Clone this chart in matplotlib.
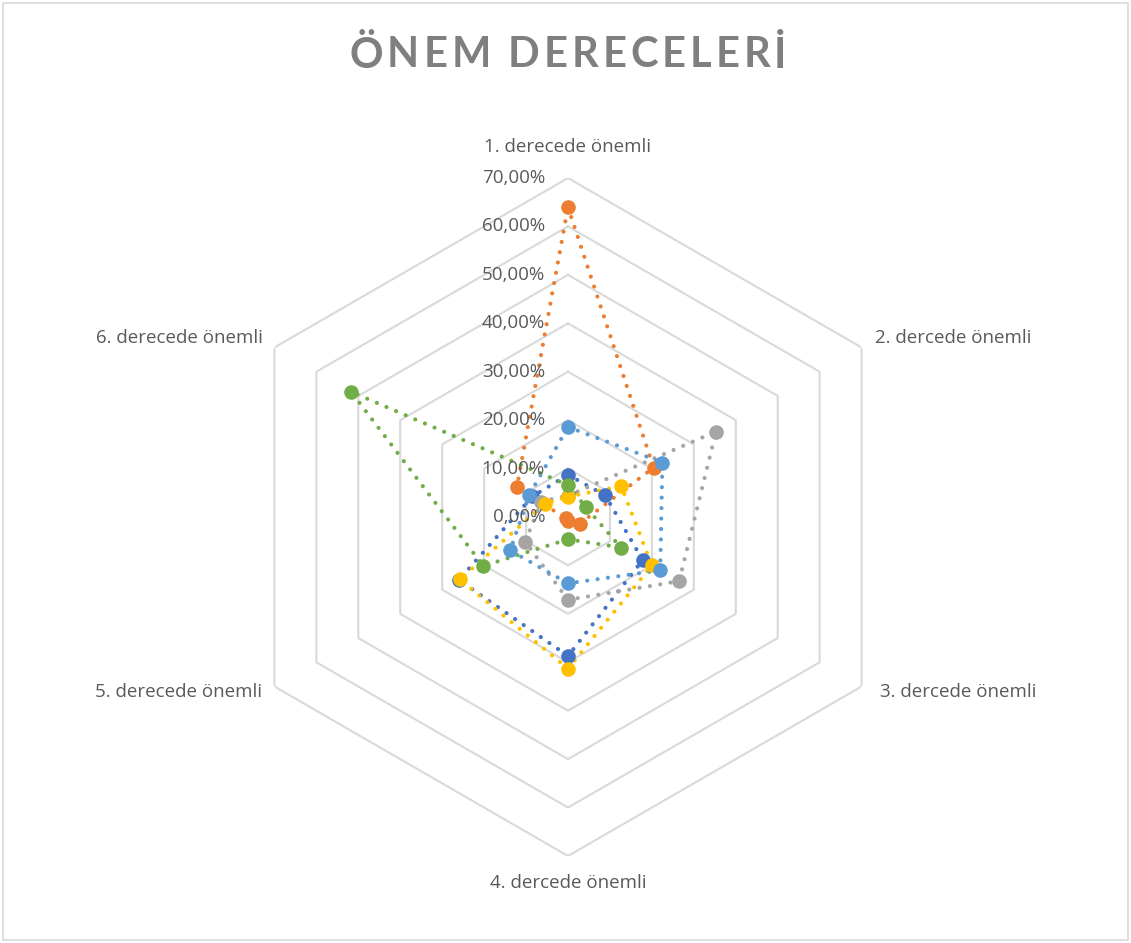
import numpy as np
import matplotlib
matplotlib.use("Agg")
import matplotlib.pyplot as plt
from matplotlib.transforms import offset_copy
from matplotlib.patches import Rectangle

# data (percent), axes order: 1..6 clockwise from top
categories = ["1. derecede önemli", "2. dercede önemli", "3. dercede önemli",
              "4. dercede önemli", "5. derecede önemli", "6. derecede önemli"]
s_darkblue = [8.7, 8.9, 17.8, 28.7, 26.0, 8.5]
s_orange = [64.0, 20.4, 2.8, 0.9, 0.5, 12.2]
s_gray = [4.4, 35.3, 26.5, 17.1, 10.2, 6.4]
s_yellow = [4.2, 12.7, 20.0, 31.3, 25.8, 5.5]
s_lightblue = [18.6, 22.5, 22.0, 13.7, 13.8, 9.2]
s_green = [6.6, 4.2, 12.6, 4.6, 20.2, 51.7]
ticks = [0, 10, 20, 30, 40, 50, 60, 70]
tick_labels = ["0,00%", "10,00%", "20,00%", "30,00%", "40,00%", "50,00%", "60,00%", "70,00%"]
title = "ÖNEM DERECELERİ"

series = [
    (s_darkblue, "#4472C4"),
    (s_orange, "#ED7D31"),
    (s_gray, "#A5A5A5"),
    (s_yellow, "#FFC000"),
    (s_lightblue, "#5B9BD5"),
    (s_green, "#70AD47"),
]

plt.rcParams["font.family"] = ["Open Sans", "DejaVu Sans"]
txt_col = "#595959"

W, H = 1131, 943
fig = plt.figure(figsize=(W / 100, H / 100), dpi=100)
fig.patches.append(Rectangle((0.003, 0.003), 0.994, 0.994, transform=fig.transFigure,
                             fill=False, edgecolor="#D9D9D9", linewidth=1.2))

cx, cy, R = 568, 517, 339
ax = fig.add_axes([(cx - R) / W, (H - cy - R) / H, 2 * R / W, 2 * R / H], projection="polar")
ax.set_theta_offset(np.pi / 2)
ax.set_theta_direction(-1)
ax.set_ylim(0, 70)
ax.grid(False)
ax.spines["polar"].set_visible(False)
ax.set_xticks([])
ax.set_yticks([])
ax.patch.set_alpha(0)

n = len(categories)
theta = np.arange(n) * 2 * np.pi / n
theta_c = np.append(theta, theta[0])

# hexagon grid
for t in ticks[1:]:
    ax.plot(theta_c, [t] * (n + 1), color="#D9D9D9", linewidth=1.5, zorder=1)

# series
for vals, col in series:
    v = np.append(vals, vals[0])
    ax.plot(theta_c, v, color=col, linewidth=3.0, linestyle=(0, (0.01, 2.5)),
            dash_capstyle="round", zorder=3)
    ax.plot(theta, vals, linestyle="none", marker="o", markersize=10.5,
            color=col, markeredgewidth=0, zorder=4)

# value labels on the first axis
tr = offset_copy(ax.transData, fig=fig, x=-23, y=0, units="dots")
for t, lab in zip(ticks, tick_labels):
    ax.text(0, t, lab, transform=tr, ha="right", va="center", fontsize=13.5,
            color=txt_col, zorder=5)

# category labels
offs = [(0, 31, "center"), (13, 9.5, "left"), (18, -5.5, "left"),
        (0, -27, "center"), (-12, -5.5, "right"), (-12, 9.5, "right")]
for th, lab, (dx, dy, ha) in zip(theta, categories, offs):
    trc = offset_copy(ax.transData, fig=fig, x=dx, y=dy, units="dots")
    ax.text(th, 70, lab, transform=trc, ha=ha, va="center", fontsize=13.5,
            color=txt_col)

# title with letter spacing, one glyph at a time
renderer = fig.canvas.get_renderer()
spacing = 4.0
tprops = dict(fontsize=30, fontweight="bold", color="#7F7F7F",
              family=["Lato", "DejaVu Sans"], va="center", ha="left")
glyphs = [fig.text(0, 0, ch, **tprops) for ch in title]
widths = []
for g in glyphs:
    widths.append(g.get_window_extent(renderer).width if g.get_text() != " " else 9)
total = sum(widths) + spacing * (len(widths) - 1)
x = cx - total / 2
for g, w in zip(glyphs, widths):
    g.set_position((x / W, 1 - 55 / H))
    x += w + spacing

fig.savefig("out.png", dpi=100)
